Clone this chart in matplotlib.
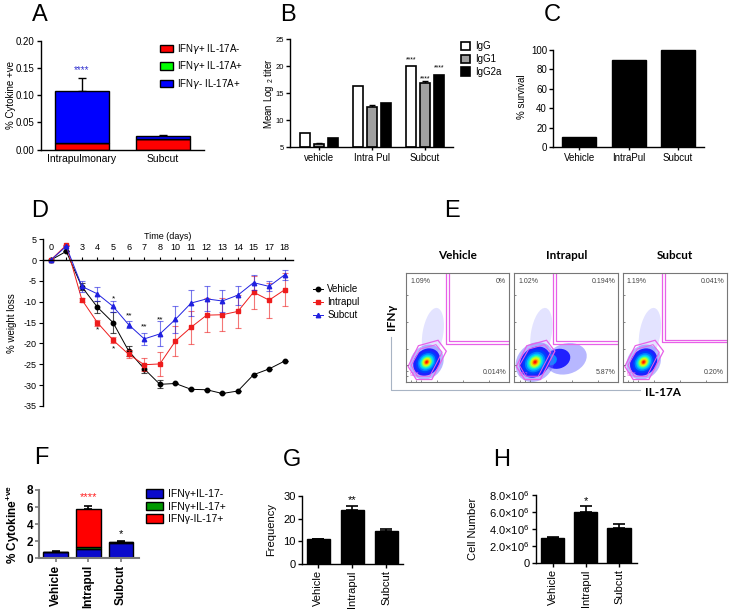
import numpy as np
import matplotlib.pyplot as plt
from matplotlib.patches import Ellipse, Polygon, Patch
from matplotlib.lines import Line2D
from matplotlib.ticker import FuncFormatter

plt.rcParams['font.family'] = ['Liberation Sans', 'DejaVu Sans']
plt.rcParams['axes.unicode_minus'] = False
plt.rcParams['axes.linewidth'] = 1.0
plt.rcParams['mathtext.default'] = 'regular'

# ---------------- data ----------------
# A: % cytokine +ve (stacked)
a_groups = ["Intrapulmonary", "Subcut"]
a_ifng_only = [0.012, 0.019]
a_double = [0.001, 0.001]
a_il17_only = [0.095, 0.005]
a_err = [0.024, 0.002]

# B: mean log2 titer
b_groups = ["vehicle", "Intra Pul", "Subcut"]
b_igg = [7.6, 16.4, 20.0]
b_igg1 = [5.6, 12.4, 16.8]
b_igg1_err = [0.1, 0.4, 0.5]
b_igg2a = [6.6, 13.2, 18.4]

# C: survival
c_groups = ["Vehicle", "IntraPul", "Subcut"]
c_survival = [10, 90, 100]

# D: weight loss over time
d_days = ["0", "", "3", "4", "5", "6", "7", "8", "10", "11", "12", "13", "14", "15", "17", "18"]
d_vehicle = [0, 2.1, -6.4, -11.3, -15.0, -21.8, -26.1, -29.8, -29.6, -31.0, -31.1, -32.0, -31.4, -27.5, -26.1, -24.2]
d_vehicle_err = [0, 0, 0.8, 1.5, 2.5, 1.2, 1.1, 1.0, 0, 0, 0, 0, 0, 0, 0, 0]
d_intrapul = [0, 3.6, -9.5, -15.0, -19.2, -22.6, -25.1, -24.9, -19.4, -16.1, -13.2, -13.1, -12.3, -7.7, -9.6, -7.1]
d_intrapul_err = [0, 0, 0.5, 0.7, 0.7, 1.0, 1.5, 2.8, 3.5, 4.0, 4.0, 4.0, 4.0, 4.0, 4.2, 4.0]
d_subcut = [0, 3.3, -6.3, -8.1, -11.1, -15.5, -18.9, -17.7, -14.2, -10.3, -9.3, -9.8, -8.4, -5.4, -6.3, -3.5]
d_subcut_err = [0, 0, 1.3, 1.7, 1.3, 0.8, 1.5, 3.0, 3.2, 3.2, 3.0, 2.6, 2.3, 1.8, 1.2, 1.2]
d_star_idx = [3, 4, 4, 5, 6, 7]
d_star_y = [-16.8, -9.3, -21.3, -13.3, -16.0, -14.3]
d_star_txt = ["*", "*", "*", "**", "**", "**"]

# E: flow cytometry quadrant percentages
e_samples = ["Vehicle", "Intrapul", "Subcut"]
e_ifng_pct = ["1.09%", "1.02%", "1.19%"]
e_double_pct = ["0%", "0.194%", "0.041%"]
e_il17_pct = ["0.014%", "5.87%", "0.20%"]
e_neg_pct = ["95.3", "92.2", "92.8"]
e_gate_x = [0.39, 0.375, 0.38]
e_gate_y = [0.35, 0.35, 0.36]

# F: % cytokine +ve (stacked)
f_groups = ["Vehicle", "Intrapul", "Subcut"]
f_ifng_only = [0.72, 1.05, 1.80]
f_double = [0.03, 0.25, 0.08]
f_il17_only = [0.03, 4.45, 0.07]
f_err = [0.12, 0.38, 0.12]

# G: frequency
g_groups = ["Vehicle", "Intrapul", "Subcut"]
g_freq = [11.0, 23.7, 14.6]
g_err = [0.2, 1.7, 0.7]

# H: cell number
h_groups = ["Vehicle", "Intrapul", "Subcut"]
h_cells = [2.98e6, 6.02e6, 4.15e6]
h_err = [0.12e6, 0.72e6, 0.4e6]

# ---------------- layout helpers ----------------
W, H = 732, 612
fig = plt.figure(figsize=(W / 100, H / 100), dpi=100)


def px_axes(x0, y_top, x1, y_bot):
    return fig.add_axes([x0 / W, 1 - y_bot / H, (x1 - x0) / W, (y_bot - y_top) / H])


def prism(ax, fs=7):
    for s in ('top', 'right'):
        ax.spines[s].set_visible(False)
    ax.tick_params(direction='out', length=3, width=1, labelsize=fs, pad=1.5)


def letter(x, y, s):
    fig.text(x / W, 1 - y / H, s, fontsize=17, ha='center', va='center')


def up_err(ax, x, top, err, color='k', lw=1.0, cap=3):
    ax.errorbar(x, top, yerr=[np.zeros(len(err)), err], fmt='none',
                ecolor=color, elinewidth=lw, capsize=cap, capthick=lw, zorder=1)


# ---------------- A ----------------
ax = px_axes(40.7, 40.7, 204, 149.7)
prism(ax, 7)
xa = np.arange(len(a_groups))
b1 = np.array(a_ifng_only)
b2 = b1 + np.array(a_double)
b3 = b2 + np.array(a_il17_only)
up_err(ax, xa, b3, a_err)
ax.bar(xa, a_ifng_only, 0.67, color='#ff0000', edgecolor='k', lw=1, zorder=2)
ax.bar(xa, a_double, 0.67, bottom=b1, color='#00ff00', edgecolor='k', lw=1, zorder=2)
ax.bar(xa, a_il17_only, 0.67, bottom=b2, color='#0000ff', edgecolor='k', lw=1, zorder=2)
ax.text(0, 0.147, "****", color='#3535d0', ha='center', va='center', fontsize=7)
ax.set_xlim(-0.51, 1.51)
ax.set_ylim(0, 0.20)
ax.set_yticks([0, 0.05, 0.10, 0.15, 0.20])
ax.set_yticklabels(["0.00", "0.05", "0.10", "0.15", "0.20"])
ax.set_xticks(xa)
ax.set_xticklabels(a_groups, fontsize=7.5)
ax.tick_params(axis='x', length=0, pad=3)
ax.set_ylabel("% Cytokine +ve", fontsize=7)
ax.yaxis.set_label_coords(-0.15, 0.5)
handles = [Patch(facecolor=c, edgecolor='k', lw=1) for c in ('#ff0000', '#00ff00', '#0000ff')]
fig.legend(handles, [r"IFN$\mathit{\gamma}$+ IL-17A-", r"IFN$\mathit{\gamma}$+ IL-17A+",
                     r"IFN$\mathit{\gamma}$- IL-17A+"],
           loc='upper left', bbox_to_anchor=(160 / W, 1 - 42 / H), frameon=False,
           fontsize=7, handlelength=1.3, handleheight=0.8, handletextpad=0.4,
           labelspacing=0.35, borderpad=0, borderaxespad=0)
letter(40, 15, "A")

# ---------------- B ----------------
ax = px_axes(290, 39.3, 453, 147)
prism(ax, 5.5)
xb = np.arange(len(b_groups))
off, wb = 0.265, 0.2
ax.bar(xb - off, np.array(b_igg) - 5, wb, bottom=5, color='white', edgecolor='k', lw=1.2)
up_err(ax, xb, b_igg1, b_igg1_err, cap=2)
ax.bar(xb, np.array(b_igg1) - 5, wb, bottom=5, color='#a0a0a0', edgecolor='k', lw=1.2)
ax.bar(xb + off, np.array(b_igg2a) - 5, wb, bottom=5, color='k', edgecolor='k', lw=1.2)
for x, y in [(2 - off, 21.1), (2, 17.7), (2 + off, 19.6)]:
    ax.text(x, y, "****", ha='center', va='center', fontsize=5)
ax.set_xlim(-0.55, 2.53)
ax.set_ylim(5, 25)
ax.set_yticks([5, 10, 15, 20, 25])
ax.set_xticks(xb)
ax.set_xticklabels(b_groups, fontsize=7)
ax.tick_params(axis='x', length=2, pad=2)
ax.set_ylabel("Mean Log $_2$ titer", fontsize=7)
ax.yaxis.set_label_coords(-0.085, 0.5)
handles = [Patch(facecolor=c, edgecolor='k', lw=1.2) for c in ('white', '#a0a0a0', 'k')]
fig.legend(handles, ["IgG", "IgG1", "IgG2a"], loc='upper left',
           bbox_to_anchor=(461 / W, 1 - 41 / H), frameon=False, fontsize=7,
           handlelength=0.9, handleheight=0.9, handletextpad=0.6, labelspacing=0.3,
           borderpad=0, borderaxespad=0)
letter(288, 15, "B")

# ---------------- C ----------------
ax = px_axes(553.3, 46, 704, 147)
prism(ax, 7)
xc = np.arange(len(c_groups))
ax.bar(xc, c_survival, 0.69, color='k', edgecolor='k')
ax.set_xlim(-0.53, 2.53)
ax.set_ylim(0, 104)
ax.set_yticks([0, 20, 40, 60, 80, 100])
ax.spines['left'].set_bounds(0, 100)
ax.set_xticks(xc)
ax.set_xticklabels(c_groups, fontsize=7)
ax.tick_params(axis='x', length=2, pad=2)
ax.set_ylabel("% survival", fontsize=7)
ax.yaxis.set_label_coords(-0.175, 0.5)
letter(552, 15, "C")

# ---------------- D ----------------
ax = px_axes(43, 239.3, 293, 406)
ax.spines['right'].set_visible(False)
ax.spines['bottom'].set_visible(False)
ax.spines['top'].set_position(('data', 0))
ax.xaxis.set_ticks_position('top')
ax.xaxis.set_label_position('top')
xd = np.arange(len(d_days))
series = [(d_vehicle, d_vehicle_err, 'k', 'o', 'Vehicle', 0.7),
          (d_intrapul, d_intrapul_err, '#ee1c1c', 's', 'Intrapul', 0.6),
          (d_subcut, d_subcut_err, '#2020e0', '^', 'Subcut', 0.6)]
for vals, err, col, mk, lab, ea in series:
    ax.errorbar(xd, vals, yerr=err, fmt='none', ecolor=col, alpha=ea,
                elinewidth=0.8, capsize=2, capthick=0.8)
    ax.plot(xd, vals, '-', color=col, lw=0.7, marker=mk, ms=3.2, label=lab)
for i, y, t in zip(d_star_idx, d_star_y, d_star_txt):
    ax.text(xd[i], y, t, ha='center', va='center', fontsize=6)
ax.set_xlim(-0.49, 15.53)
ax.set_ylim(-35, 5)
ax.set_yticks(np.arange(-35, 6, 5))
ax.set_xticks(xd)
ax.set_xticklabels(d_days)
ax.tick_params(axis='y', direction='out', length=3, labelsize=6.5, pad=1.5)
ax.tick_params(axis='x', direction='out', length=2.5, labelsize=6.5, pad=3)
ax.set_xlabel("Time (days)", fontsize=6.5, labelpad=3)
ax.set_ylabel("% weight loss", fontsize=7)
ax.yaxis.set_label_coords(-0.105, 0.5)
ax.legend(loc='upper left', bbox_to_anchor=(1.06, 0.76), frameon=False, fontsize=7,
          handlelength=1.0, handletextpad=0.5, labelspacing=0.3, borderpad=0)
letter(40, 211, "D")

# ---------------- E ----------------
jet = ['#2020ff', '#0040ff', '#0080ff', '#00c0ff', '#10f0d0', '#70ff70', '#d0ff10', '#ffc000', '#ff6000', '#ff1000']
jet_scale = [1.0, 0.8, 0.66, 0.55, 0.46, 0.38, 0.3, 0.22, 0.15, 0.08]
e_left = [406, 514.3, 622.7]
e_right = [509.3, 618.3, 727.3]
pink = '#e860e8'
ticks = [0.05, 0.1, 0.15, 0.3, 0.55, 0.8]
for k, name in enumerate(e_samples):
    ax = px_axes(e_left[k], 272.7, e_right[k], 381.7)
    ax.set_xlim(0, 1)
    ax.set_ylim(0, 1)
    for s in ax.spines.values():
        s.set_color('#777777')
        s.set_linewidth(0.8)
    ax.set_xticks(ticks)
    ax.set_yticks(ticks)
    ax.set_xticklabels([])
    ax.set_yticklabels([])
    ax.tick_params(direction='in', length=1.5, width=0.5, colors='#555555')
    # sparse events
    ax.add_patch(Ellipse((0.26, 0.44), 0.2, 0.48, angle=-10, color='#8080ff', alpha=0.22, lw=0))
    if name == "Intrapul":
        ax.add_patch(Ellipse((0.5, 0.21), 0.4, 0.28, angle=15, color='#7070ff', alpha=0.5, lw=0))
        ax.add_patch(Ellipse((0.42, 0.21), 0.24, 0.18, angle=15, color='#2020ff', lw=0))
        ax.add_patch(Ellipse((0.35, 0.2), 0.12, 0.1, angle=15, color='#0090ff', lw=0))
        w0, h0 = 0.32, 0.26
    else:
        w0, h0 = 0.28, 0.23
    ax.add_patch(Ellipse((0.2, 0.18), w0 * 1.25, h0 * 1.3, angle=40, color='#6060ff', alpha=0.45, lw=0))
    for sc, col in zip(jet_scale, jet):
        ax.add_patch(Ellipse((0.2, 0.18), w0 * sc, h0 * sc, angle=40, color=col, lw=0))
    gx, gy = e_gate_x[k], e_gate_y[k]
    for d in (0.0, 0.025):
        ax.plot([gx + d, gx + d, 1.0], [1.0, gy + d, gy + d], color=pink, lw=0.9)
    ax.add_patch(Polygon([(0.02, 0.14), (0.12, 0.33), (0.31, 0.38), (0.39, 0.28),
                          (0.25, 0.02), (0.1, 0.02)], fill=False, ec=pink, lw=0.9))
    ax.add_patch(Polygon([(0.05, 0.15), (0.14, 0.3), (0.29, 0.34), (0.35, 0.27),
                          (0.23, 0.05), (0.11, 0.05)], fill=False, ec=pink, lw=0.7))
    ax.text(0.04, 0.95, e_ifng_pct[k], fontsize=5, color='#444444', ha='left', va='top')
    ax.text(0.97, 0.95, e_double_pct[k], fontsize=5, color='#444444', ha='right', va='top')
    ax.text(0.97, 0.05, e_il17_pct[k], fontsize=5, color='#444444', ha='right', va='bottom')
    ax.text(0.04, 0.04, e_neg_pct[k], fontsize=3.5, color=pink, ha='left', va='bottom')
    ax.set_title(name, fontsize=8.5, fontweight='bold', family=['Lato', 'DejaVu Sans'], pad=10)
fig.text(391.7 / W, 1 - 316.7 / H, "IFNγ", rotation=90, fontsize=8.5, fontweight='bold',
         family=['Lato', 'DejaVu Sans'], ha='center', va='center')
fig.text(663 / W, 1 - 392 / H, "IL-17A", fontsize=8.5, fontweight='bold',
         family=['Lato', 'DejaVu Sans'], ha='center', va='center')
fig.add_artist(Line2D([391 / W, 391 / W, 640 / W], [1 - 337 / H, 1 - 390 / H, 1 - 390 / H],
                      color='#a8b4c4', lw=0.8))
letter(452, 211, "E")

# ---------------- F ----------------
ax = px_axes(39.3, 490, 139.3, 558.3)
for s in ('top', 'right'):
    ax.spines[s].set_visible(False)
for s in ('left', 'bottom'):
    ax.spines[s].set_color('#7a7a7a')
    ax.spines[s].set_linewidth(1.5)
xf = np.arange(len(f_groups))
f1 = np.array(f_ifng_only)
f2 = f1 + np.array(f_double)
f3 = f2 + np.array(f_il17_only)
up_err(ax, xf, f3, f_err, cap=3, lw=1.2)
ax.bar(xf, f_ifng_only, 0.76, color='#0a0acc', edgecolor='k', lw=1, zorder=2)
ax.bar(xf, f_double, 0.76, bottom=f1, color='#009900', edgecolor='k', lw=1, zorder=2)
ax.bar(xf, f_il17_only, 0.76, bottom=f2, color='#ff0000', edgecolor='k', lw=1, zorder=2)
ax.text(1, 7.2, "****", color='#ff2020', ha='center', va='center', fontsize=8)
ax.text(2, 2.85, "*", color='k', ha='center', va='center', fontsize=8)
ax.set_xlim(-0.5, 2.56)
ax.set_ylim(0, 8)
ax.set_yticks([0, 2, 4, 6, 8])
ax.set_xticks(xf)
ax.set_xticklabels(f_groups, rotation=90, fontweight='bold', fontsize=8.5)
ax.tick_params(axis='y', direction='out', length=3, width=1.2, color='#7a7a7a', labelsize=8.5, pad=1.5)
ax.tick_params(axis='x', length=3, width=1.2, color='#7a7a7a', pad=2)
for t in ax.get_yticklabels():
    t.set_fontweight('bold')
ax.set_ylabel("% Cytokine$^{+ve}$", fontsize=8.5, fontweight='bold')
ax.yaxis.set_label_coords(-0.175, 0.5)
handles = [Patch(facecolor=c, edgecolor='k', lw=1) for c in ('#0a0acc', '#009900', '#ff0000')]
fig.legend(handles, ["IFNγ+IL-17-", "IFNγ+IL-17+", "IFNγ-IL-17+"], loc='upper left',
           bbox_to_anchor=(146 / W, 1 - 489 / H), frameon=False, fontsize=7.5,
           handlelength=1.6, handleheight=0.9, handletextpad=0.5, labelspacing=0.25,
           borderpad=0, borderaxespad=0)
letter(41, 458, "F")

# ---------------- G ----------------
ax = px_axes(301.7, 496, 403.3, 564)
prism(ax, 8)
xg = np.arange(len(g_groups))
up_err(ax, xg, g_freq, g_err, cap=4, lw=1.2)
ax.bar(xg, g_freq, 0.69, color='k', edgecolor='k', zorder=2)
ax.text(1, 28.4, "**", ha='center', va='center', fontsize=8)
ax.set_xlim(-0.49, 2.5)
ax.set_ylim(0, 30)
ax.set_yticks([0, 10, 20, 30])
ax.set_xticks(xg)
ax.set_xticklabels(g_groups, rotation=90, fontsize=8)
ax.set_ylabel("Frequency", fontsize=8)
ax.yaxis.set_label_coords(-0.255, 0.5)
letter(292, 460, "G")

# ---------------- H ----------------
ax = px_axes(536, 495.3, 636.7, 563)
prism(ax, 8)
xh = np.arange(len(h_groups))
up_err(ax, xh, h_cells, h_err, cap=4, lw=1.2)
ax.bar(xh, h_cells, 0.7, color='k', edgecolor='k', zorder=2)
ax.text(1, 7.3e6, "*", ha='center', va='center', fontsize=8)
ax.set_xlim(-0.5, 2.53)
ax.set_ylim(0, 8e6)
ax.set_yticks([0, 2e6, 4e6, 6e6, 8e6])
ax.yaxis.set_major_formatter(FuncFormatter(
    lambda v, p: "0" if v == 0 else f"{v / 1e6:.1f}×10$^6$"))
ax.set_xticks(xh)
ax.set_xticklabels(h_groups, rotation=90, fontsize=8)
ax.set_ylabel("Cell Number", fontsize=8)
ax.yaxis.set_label_coords(-0.58, 0.5)
letter(502, 460, "H")

fig.savefig("out.png", dpi=100)
